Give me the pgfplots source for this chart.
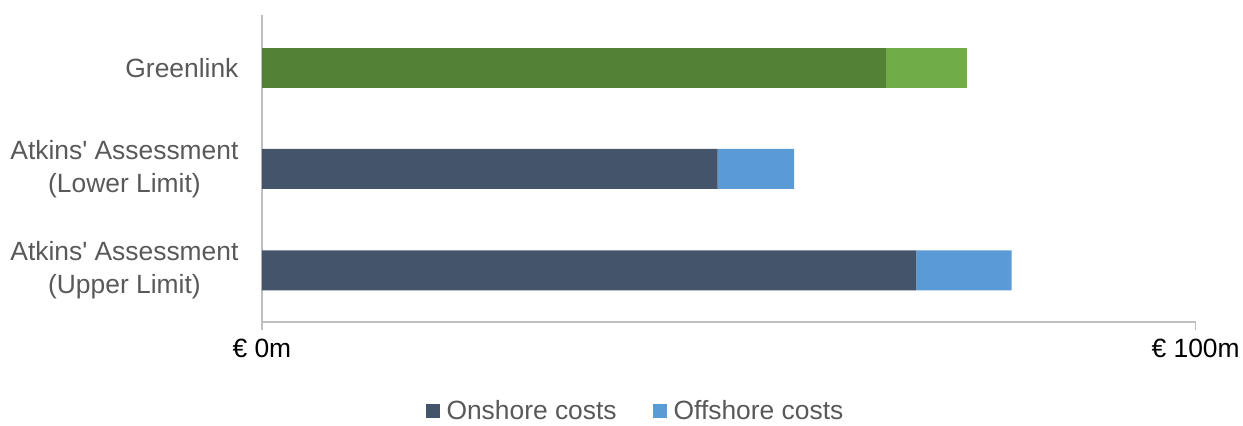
\documentclass[border=0pt]{standalone}
\usepackage{pgfplots}
\pgfplotsset{compat=1.18}
\usepackage{fontspec}
\setmainfont{Liberation Sans}
\definecolor{onshore}{HTML}{44546A}
\definecolor{offshore}{HTML}{5B9BD5}
\definecolor{gon}{HTML}{538135}
\definecolor{goff}{HTML}{70AD47}
\definecolor{axgray}{HTML}{BFBFBF}
\definecolor{txtgray}{HTML}{595959}
\begin{document}
\begin{tikzpicture}[x=1bp,y=1bp]
\begin{axis}[
  at={(0,0)}, anchor=south west,
  scale only axis,
  width=934bp, height=307bp,
  xbar stacked,
  bar width=40bp,
  xmin=0, xmax=100,
  ymin=-0.51, ymax=2.52,
  xtick={0,100},
  xticklabels={€ 0m, € 100m},
  ytick={0,1,2},
  yticklabels={{Atkins\textquotesingle\ Assessment\\(Upper Limit)},{Atkins\textquotesingle\ Assessment\\(Lower Limit)},{Greenlink}},
  yticklabel style={align=center, text=txtgray, font=\fontsize{26.5}{33}\selectfont, xshift=-12bp},
  xticklabel style={text=black, font=\fontsize{26.5}{32}\selectfont, yshift=-6bp},
  axis x line*=bottom,
  axis y line*=left,
  axis line style={draw=axgray, line width=1.5bp, -},
  xtick style={draw=axgray, line width=1.5bp},
  ytick style={draw=none},
  tick align=outside,
  major tick length=8bp,
  legend columns=2,
  legend style={draw=none, at={(0.40,-0.29)}, anchor=center,
    font=\fontsize{26.5}{32}\selectfont, text=txtgray,
    /tikz/every even column/.append style={column sep=34bp}},
  legend image code/.code={\fill[#1] (0bp,-7bp) rectangle (14bp,7bp); \path (19bp,0bp);},
  /pgf/number format/assume math mode=true,
]
\addplot[fill=onshore, draw=none] coordinates {(70.1,0) (48.8,1) (0,2)};
\addlegendentry{Onshore costs}
\addplot[fill=gon, draw=none, forget plot] coordinates {(0,0) (0,1) (66.8,2)};
\addplot[fill=offshore, draw=none] coordinates {(10.2,0) (8.2,1) (0,2)};
\addlegendentry{Offshore costs}
\addplot[fill=goff, draw=none, forget plot] coordinates {(0,0) (0,1) (8.7,2)};
\end{axis}
\useasboundingbox (-262bp,-99bp) rectangle (981bp,322bp);
\end{tikzpicture}
\end{document}
